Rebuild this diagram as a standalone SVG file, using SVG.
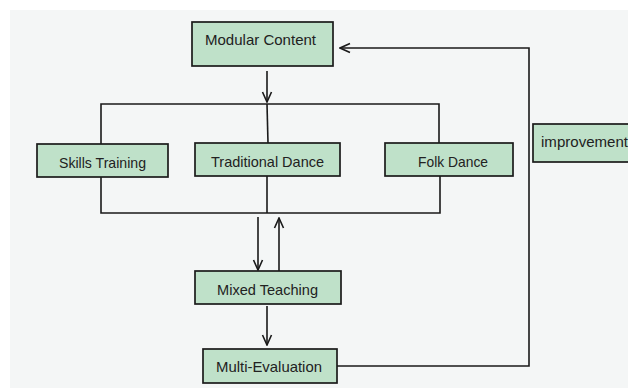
<svg xmlns="http://www.w3.org/2000/svg" width="628" height="391" viewBox="0 0 628 391">
<defs>
<style>
.box{fill:#bfe1c9;stroke:#1a1a1a;stroke-width:1.7}
.lbl{font-family:"Liberation Sans",Arial,sans-serif;font-size:14.5px;fill:#222}
.ln{fill:none;stroke:#1a1a1a;stroke-width:1.6}
</style>
<marker id="ah" viewBox="0 0 12 12" refX="11" refY="6" markerWidth="12" markerHeight="12" markerUnits="userSpaceOnUse" orient="auto">
<path d="M1,1.5 L11,6 L1,10.5" fill="none" stroke="#1a1a1a" stroke-width="1.6"/>
</marker>
</defs>
<rect x="0" y="0" width="628" height="391" fill="#ffffff"/>
<rect x="10" y="10" width="618" height="378" fill="#f4f6f6"/>
<g id="connectors">
<path class="ln" d="M267,71 V102" marker-end="url(#ah)"/>
<path class="ln" d="M101,144 V104 H439 V144"/>
<path class="ln" d="M267,104 L268,143"/>
<path class="ln" d="M101,177 V213 H440 V176"/>
<path class="ln" d="M267,176 V213"/>
<path class="ln" d="M258,217 V270" marker-end="url(#ah)"/>
<path class="ln" d="M279,271 V218" marker-end="url(#ah)"/>
<path class="ln" d="M267,306 V345" marker-end="url(#ah)"/>
<path class="ln" d="M337,366 H529 V48 H340" marker-end="url(#ah)"/>
</g>
<g id="modular-content">
<rect class="box" x="192" y="22" width="141" height="44"/>
<text class="lbl" x="260.5" y="45" text-anchor="middle" textLength="111" lengthAdjust="spacingAndGlyphs">Modular Content</text>
</g>
<g id="skills-training">
<rect class="box" x="37" y="144" width="131" height="33"/>
<text class="lbl" x="102.5" y="168" text-anchor="middle" textLength="87" lengthAdjust="spacingAndGlyphs">Skills Training</text>
</g>
<g id="traditional-dance">
<rect class="box" x="195" y="143" width="145" height="33"/>
<text class="lbl" x="267.5" y="167" text-anchor="middle" textLength="113" lengthAdjust="spacingAndGlyphs">Traditional Dance</text>
</g>
<g id="folk-dance">
<rect class="box" x="385" y="143" width="128" height="33"/>
<text class="lbl" x="453" y="167" text-anchor="middle" textLength="70" lengthAdjust="spacingAndGlyphs">Folk Dance</text>
</g>
<g id="improvement">
<rect class="box" x="533" y="124" width="110" height="38"/>
<text class="lbl" x="541" y="147" textLength="87" lengthAdjust="spacingAndGlyphs">improvement</text>
</g>
<g id="mixed-teaching">
<rect class="box" x="195" y="271" width="146" height="33"/>
<text class="lbl" x="267.5" y="295" text-anchor="middle" textLength="101" lengthAdjust="spacingAndGlyphs">Mixed Teaching</text>
</g>
<g id="multi-evaluation">
<rect class="box" x="203" y="349" width="134" height="34"/>
<text class="lbl" x="269" y="372" text-anchor="middle" textLength="106" lengthAdjust="spacingAndGlyphs">Multi-Evaluation</text>
</g>
</svg>
